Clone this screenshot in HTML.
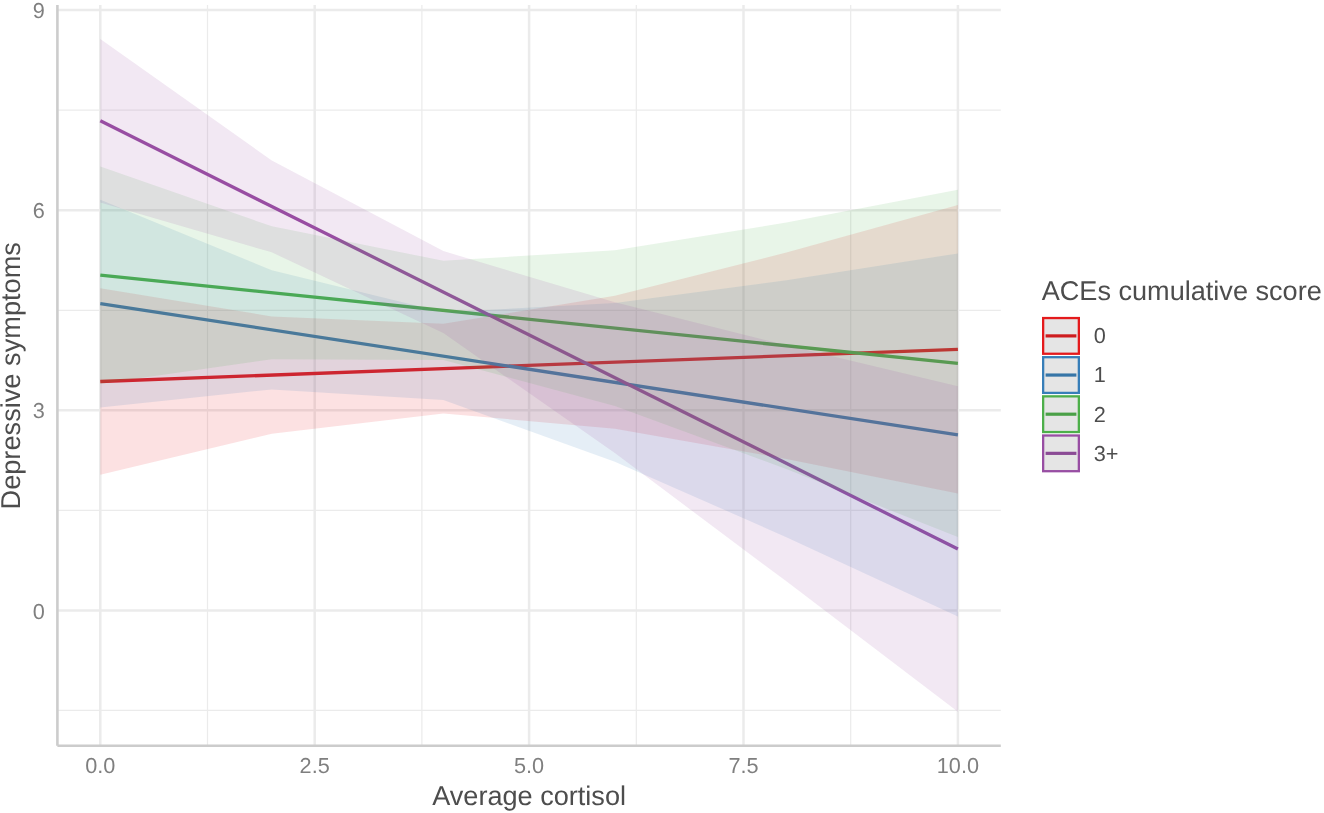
<!DOCTYPE html>
<html lang="en"><head><meta charset="utf-8"><title>Depressive symptoms by average cortisol and ACEs cumulative score</title>
<style>html,body{margin:0;padding:0;background:#fff}body{width:1324px;height:813px;overflow:hidden}svg{display:block;will-change:transform}text{text-rendering:geometricPrecision;font-family:"Liberation Sans",Arial,Helvetica,sans-serif}.tick{font-size:21.7px;fill:#7f7f7f}.ttl{font-size:27.1px;fill:#4d4d4d}.leg{font-size:21.7px;fill:#4d4d4d}</style>
</head><body>
<svg width="1324" height="813" viewBox="0 0 1324 813">
<rect x="0" y="0" width="1324" height="813" fill="#ffffff"/>
<g stroke="#ebebeb" stroke-width="1.25" fill="none">
<line x1="57.4" x2="1000.8" y1="710.45" y2="710.45"/>
<line x1="57.4" x2="1000.8" y1="510.35" y2="510.35"/>
<line x1="57.4" x2="1000.8" y1="310.25" y2="310.25"/>
<line x1="57.4" x2="1000.8" y1="110.15" y2="110.15"/>
<line y1="4.9" y2="745.7" x1="207.50" x2="207.50"/>
<line y1="4.9" y2="745.7" x1="421.90" x2="421.90"/>
<line y1="4.9" y2="745.7" x1="636.30" x2="636.30"/>
<line y1="4.9" y2="745.7" x1="850.70" x2="850.70"/>
</g>
<g stroke="#ebebeb" stroke-width="2.5" fill="none">
<line x1="57.4" x2="1000.8" y1="610.40" y2="610.40"/>
<line x1="57.4" x2="1000.8" y1="410.30" y2="410.30"/>
<line x1="57.4" x2="1000.8" y1="210.20" y2="210.20"/>
<line x1="57.4" x2="1000.8" y1="10.10" y2="10.10"/>
<line y1="4.9" y2="745.7" x1="100.30" x2="100.30"/>
<line y1="4.9" y2="745.7" x1="314.70" x2="314.70"/>
<line y1="4.9" y2="745.7" x1="529.10" x2="529.10"/>
<line y1="4.9" y2="745.7" x1="743.50" x2="743.50"/>
<line y1="4.9" y2="745.7" x1="957.90" x2="957.90"/>
</g>
<g fill="none" stroke-width="3.3" stroke-linecap="butt">
<line x1="100.30" y1="381.5" x2="957.90" y2="349.3" stroke="#E41A1C"/>
<line x1="100.30" y1="303.6" x2="957.90" y2="434.9" stroke="#377EB8"/>
<line x1="100.30" y1="275.1" x2="957.90" y2="363.4" stroke="#4DAF4A"/>
<line x1="100.30" y1="120.8" x2="957.90" y2="549.0" stroke="#984EA3"/>
</g>
<g stroke="none" fill-opacity="0.13">
<polygon fill="#E41A1C" points="100.30,288.30 271.82,316.46 443.34,323.82 614.86,295.68 786.38,252.54 957.90,205.00 957.90,493.60 786.38,458.94 614.86,428.68 443.34,413.42 271.82,433.66 100.30,474.70"/>
<polygon fill="#377EB8" points="100.30,199.70 271.82,270.26 443.34,312.22 614.86,303.08 786.38,280.14 957.90,253.40 957.90,616.40 786.38,537.14 614.86,461.68 443.34,400.02 271.82,389.46 100.30,407.50"/>
<polygon fill="#4DAF4A" points="100.30,166.50 271.82,226.36 443.34,260.82 614.86,250.28 786.38,222.54 957.90,189.70 957.90,537.10 786.38,468.94 614.86,405.88 443.34,360.02 271.82,359.16 100.30,383.70"/>
<polygon fill="#984EA3" points="100.30,39.00 271.82,160.54 443.34,251.08 614.86,302.32 786.38,345.36 957.90,386.30 957.90,711.70 786.38,581.36 614.86,453.12 443.34,333.08 271.82,252.34 100.30,202.60"/>
</g>
<g stroke="#cccccc" stroke-width="2.6" fill="none" stroke-linecap="butt"><line x1="57.4" x2="57.4" y1="4.9" y2="745.7"/><line x1="57.4" x2="1000.8" y1="745.7" y2="745.7"/></g>
<text class="tick" x="44.9" y="618.50" text-anchor="end">0</text>
<text class="tick" x="44.9" y="418.40" text-anchor="end">3</text>
<text class="tick" x="44.9" y="218.30" text-anchor="end">6</text>
<text class="tick" x="44.9" y="18.20" text-anchor="end">9</text>
<text class="tick" x="100.30" y="773.3" text-anchor="middle">0.0</text>
<text class="tick" x="314.70" y="773.3" text-anchor="middle">2.5</text>
<text class="tick" x="529.10" y="773.3" text-anchor="middle">5.0</text>
<text class="tick" x="743.50" y="773.3" text-anchor="middle">7.5</text>
<text class="tick" x="957.90" y="773.3" text-anchor="middle">10.0</text>
<text class="ttl" x="529.10" y="804.5" text-anchor="middle">Average cortisol</text>
<text class="ttl" style="font-size:27.2px" transform="translate(19.8,375.80) rotate(-90)" text-anchor="middle">Depressive symptoms</text>
<text class="ttl" x="1041.7" y="300">ACEs cumulative score</text>
<rect x="1043.15" y="318.05" width="35.70" height="35.70" fill="#e5e5e5" stroke="#E41A1C" stroke-width="2.3"/>
<line x1="1045.6" x2="1076.4" y1="335.90" y2="335.90" stroke="#ce1d1f" stroke-width="3.2"/>
<text class="leg" x="1093.7" y="343.20">0</text>
<rect x="1043.15" y="357.20" width="35.70" height="35.70" fill="#e5e5e5" stroke="#377EB8" stroke-width="2.3"/>
<line x1="1045.6" x2="1076.4" y1="375.05" y2="375.05" stroke="#3675a7" stroke-width="3.2"/>
<text class="leg" x="1093.7" y="382.35">1</text>
<rect x="1043.15" y="396.35" width="35.70" height="35.70" fill="#e5e5e5" stroke="#4DAF4A" stroke-width="2.3"/>
<line x1="1045.6" x2="1076.4" y1="414.20" y2="414.20" stroke="#4aa047" stroke-width="3.2"/>
<text class="leg" x="1093.7" y="421.50">2</text>
<rect x="1043.15" y="435.50" width="35.70" height="35.70" fill="#e5e5e5" stroke="#984EA3" stroke-width="2.3"/>
<line x1="1045.6" x2="1076.4" y1="453.35" y2="453.35" stroke="#8b4b95" stroke-width="3.2"/>
<text class="leg" x="1093.7" y="460.65">3+</text>
</svg></body></html>
